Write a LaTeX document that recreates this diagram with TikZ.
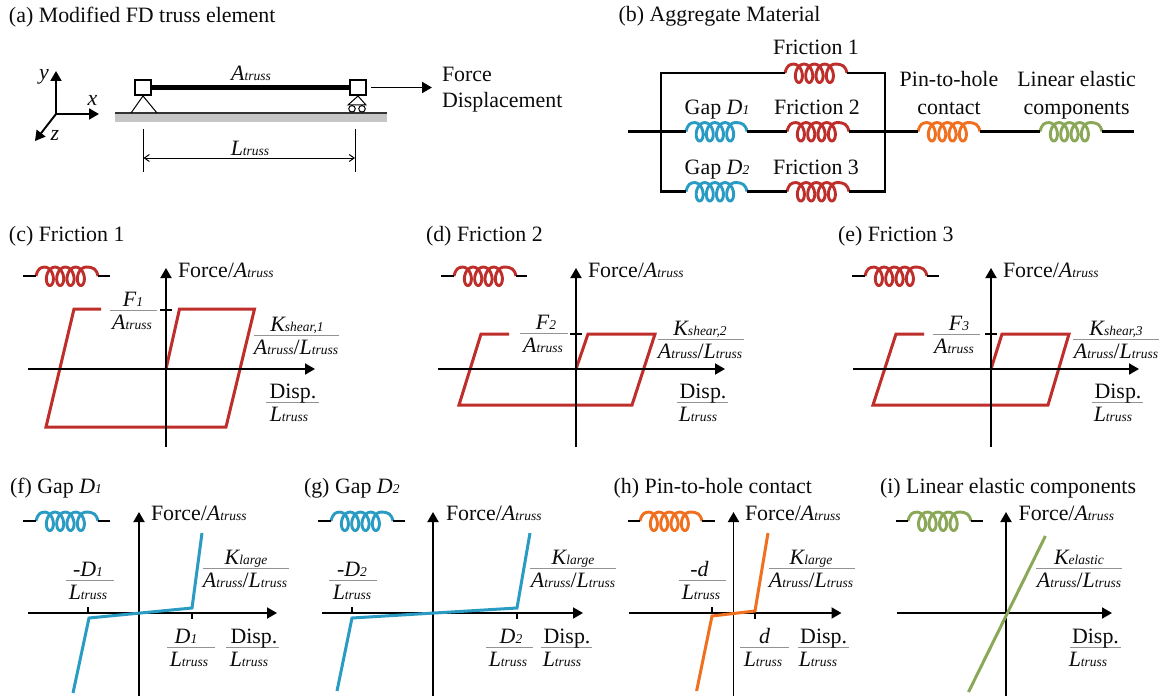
\documentclass[tikz,border=0pt]{standalone}
\usepackage{fontspec}
\setmainfont{Liberation Serif}
\usetikzlibrary{arrows.meta}
\definecolor{cred}{HTML}{BE2E2B}
\definecolor{cblue}{HTML}{2A9CC4}
\definecolor{corange}{HTML}{F07020}
\definecolor{cgreen}{HTML}{8AA858}
\definecolor{ink}{HTML}{0C0C0C}
\newcommand\smsz{13.5}
\newcommand\Sm[2]{\textit{#1{\fontsize{\smsz}{\smsz}\selectfont #2}}}
\newcommand\At{\Sm{A}{truss}}
\newcommand\Lt{\Sm{L}{truss}}
\tikzset{
  txt/.style={inner sep=0pt,outer sep=0pt,text=ink,font=\fontsize{21.9}{24}\selectfont},
  lab/.style={txt,anchor=base},
  title/.style={txt,anchor=base west},
  wire/.style={line width=2.1pt,draw=black},
  axisline/.style={line width=1.9pt,draw=black,-{Triangle[length=10pt,width=11pt]}},
  curve/.style={line width=3pt,line join=miter},
  coilline/.style={line width=2.9pt},
  fracline/.style={line width=.9pt,draw=gray!85},
  tick/.style={line width=1.7pt,draw=black},
  sq/.style={draw=black,line width=2pt,minimum width=16pt,minimum height=15pt,inner sep=0pt,fill=white},
  wheel/.style={draw=black,line width=1pt,circle,minimum size=6.5pt,inner sep=0pt},
}
% name, x1, x2, y, colour
\newcommand\coil[5]{%
  \coordinate (#1-l) at (#2,#4);
  \coordinate (#1-r) at (#3,#4);
  \begin{scope}[shift={(#2,#4)},xscale={(#3-#2)/57}]
  \draw[coilline,draw=#5] (0,0) .. controls (1.5,-7) and (4,-8.9) .. (8,-8.9)
    -- plot[domain=0:1440,samples=145] ({8+9.5*\x/360+5.4*sin(\x)},{0.3-9.2*cos(\x)})
    .. controls (53,-8.9) and (55.5,-7) .. (57,0);
  \end{scope}}
% name, wire-left, coil-left, coil-right, wire-right, y, colour
\newcommand\icon[7]{%
  \coil{#1}{#3}{#4}{#6}{#7}
  \coordinate (#1-a) at (#2,#6);
  \coordinate (#1-b) at (#5,#6);
  \draw[wire] (#1-a) -- (#1-l);
  \draw[wire] (#1-r) -- (#1-b);}
% name, x1, x2, liney, numx, num, denx, den
\newcommand\fr[8]{%
  \coordinate (#1-a) at (#2,#4);
  \coordinate (#1-b) at (#3,#4);
  \draw[fracline] (#1-a) -- (#1-b);
  \node[lab] (#1-n) at (#5,#4-4) {#6};
  \node[lab] (#1-d) at (#7,#4+19) {#8};}
% name, axis x, xleft, xright, axis y, top, bottom
\newcommand\axes[7]{%
  \coordinate (#1-o) at (#2,#5);
  \coordinate (#1-w) at (#3,#5);
  \coordinate (#1-e) at (#4,#5);
  \coordinate (#1-t) at (#2,#6);
  \coordinate (#1-s) at (#2,#7);
  \draw[axisline] (#1-w) -- (#1-e);
  \draw[axisline] (#1-s) -- (#1-t);}
\begin{document}
\begin{tikzpicture}[x=1pt,y=-1pt]
\useasboundingbox[fill=white] (0,0) rectangle (1161,698);

% ---------- (a)
\node[title] (ta) at (9,23) {(a) Modified FD truss element};
\coordinate (ao) at (56,114);
\coordinate (ay) at (56,71);
\coordinate (ax) at (99,114);
\coordinate (az) at (35,141);
\draw[axisline] (ao) -- (ay);
\draw[axisline] (ao) -- (ax);
\draw[axisline] (ao) -- (az);
\node[lab] (ly) at (44,80) {\textit{y}};
\node[lab] (lx) at (92.5,106) {\textit{x}};
\node[lab] (lz) at (55,140) {\textit{z}};
\fill[gray!45] (115,113) rectangle (387,122);
\coordinate (gl) at (115,113);
\coordinate (gr) at (387,113);
\draw[line width=1.3pt,draw=black!80] (gl) -- (gr);
\node[sq] (sl) at (143,87.5) {};
\node[sq] (sr) at (358,87.5) {};
\draw[line width=4.4pt] (sl.east) -- (sr.west);
\draw[line width=1pt] (131,113) -- (sl.south) -- (157,113);
\draw[line width=1pt] (348,105) -- (sr.south) -- (366,105) -- cycle;
\node[wheel] (w1) at (352,108.8) {};
\node[wheel] (w2) at (362,108.8) {};
\node[lab] (la) at (251,81) {\At};
\coordinate (d1a) at (143.5,129);
\coordinate (d1b) at (143.5,172);
\coordinate (d2a) at (355,129);
\coordinate (d2b) at (355,172);
\coordinate (m1) at (143.5,158);
\coordinate (m2) at (355,158);
\draw[line width=1pt] (d1a) -- (d1b);
\draw[line width=1pt] (d2a) -- (d2b);
\draw[line width=1pt,{Straight Barb[length=5pt,width=7pt]}-{Straight Barb[length=5pt,width=7pt]}] (m1) -- (m2);
\node[lab] (ll) at (250,155) {\Lt};
\coordinate (fa) at (371,87.5);
\coordinate (fb) at (432,87.5);
\draw[axisline] (fa) -- (fb);
\node[title] (tf) at (442,82) {Force};
\node[title] (td) at (442,108) {Displacement};

% ---------- (b)
\node[title] (tb) at (618.6,22) {(b) Aggregate Material};
\coil{f1}{785}{847}{73}{cred}
\coil{g1}{686}{747}{131.5}{cblue}
\coil{f2}{787}{849}{131.5}{cred}
\coil{g2}{686}{747}{191.5}{cblue}
\coil{f3}{787}{849}{191.5}{cred}
\coil{ph}{918}{980}{131.5}{corange}
\coil{le}{1040}{1102}{131.5}{cgreen}
\coordinate (wl) at (628,131.5);
\coordinate (wr) at (1134,131.5);
\coordinate (tl) at (661,73);
\coordinate (bl) at (661,191.5);
\coordinate (tr) at (885,73);
\coordinate (br) at (885,191.5);
\draw[wire] (wl) -- (g1-l);
\draw[wire] (g1-r) -- (f2-l);
\draw[wire] (f2-r) -- (ph-l);
\draw[wire] (ph-r) -- (le-l);
\draw[wire] (le-r) -- (wr);
\draw[wire] (f1-l) -- (tl) -- (bl) -- (g2-l);
\draw[wire] (g2-r) -- (f3-l);
\draw[wire] (f1-r) -- (tr) -- (br) -- (f3-r);
\node[lab] (nf1) at (816,55) {Friction 1};
\node[lab] (ng1) at (717,114) {Gap \Sm{D}{1}};
\node[lab] (nf2) at (817,114) {Friction 2};
\node[lab] (ng2) at (717,174) {Gap \Sm{D}{2}};
\node[lab] (nf3) at (816,174) {Friction 3};
\node[lab] (np1) at (949,87) {Pin-to-hole};
\node[lab] (np2) at (949,114) {contact};
\node[lab] (ne1) at (1076.6,87) {Linear elastic};
\node[lab] (ne2) at (1076.6,114) {components};

% ---------- (c)
\node[title] (tc) at (9,241) {(c) Friction 1};
\icon{ic}{23}{36}{98}{110}{276}{cred}
\coordinate (c1) at (166,369);
\coordinate (c2) at (179.5,309);
\coordinate (c3) at (254.5,309);
\coordinate (c4) at (226,427);
\coordinate (c5) at (46,427);
\coordinate (c6) at (74,309);
\coordinate (c7) at (101,309);
\draw[curve,cred] (c1) -- (c2) -- (c3) -- (c4) -- (c5) -- (c6) -- (c7);
\axes{ac}{166}{28}{315}{369}{268}{447}
\draw[tick] (160,310) -- (172,310);
\node[title] (fc) at (178,277) {Force/\At};
\fr{c-f}{110}{157}{310}{133}{\Sm{F}{1}}{132}{\At}
\fr{c-k}{254}{339}{335}{297}{\Sm{K}{shear,1}}{296}{\At/\Lt}
\fr{c-x}{266}{319}{402}{293}{Disp.}{289}{\Lt}

% ---------- (d)
\node[title] (td2) at (426,241) {(d) Friction 2};
\icon{id}{441}{454}{516}{527}{276}{cred}
\coordinate (d1) at (576,369);
\coordinate (d2) at (588,334);
\coordinate (d3) at (655,334);
\coordinate (d4) at (632,405);
\coordinate (d5) at (459,405);
\coordinate (d6) at (481,334);
\coordinate (d7) at (509,334);
\draw[curve,cred] (d1) -- (d2) -- (d3) -- (d4) -- (d5) -- (d6) -- (d7);
\axes{ad}{576}{438}{725}{369}{268}{447}
\draw[tick] (570,334) -- (582,334);
\node[title] (fd) at (588,277) {Force/\At};
\fr{d-f}{520}{568}{333}{546}{\Sm{F}{2}}{543}{\At}
\fr{d-k}{658}{744}{339}{700}{\Sm{K}{shear,2}}{700}{\At/\Lt}
\fr{d-x}{677}{728}{402}{703}{Disp.}{698}{\Lt}

% ---------- (e)
\node[title] (te) at (838,241) {(e) Friction 3};
\icon{ie}{852}{865}{927}{939}{276}{cred}
\coordinate (e1) at (991,369);
\coordinate (e2) at (1002,334);
\coordinate (e3) at (1069,334);
\coordinate (e4) at (1048,405);
\coordinate (e5) at (873,405);
\coordinate (e6) at (896,334);
\coordinate (e7) at (924,334);
\draw[curve,cred] (e1) -- (e2) -- (e3) -- (e4) -- (e5) -- (e6) -- (e7);
\axes{ae}{991}{853}{1139}{369}{268}{447}
\draw[tick] (985,334) -- (997,334);
\node[title] (fe) at (1003,277) {Force/\At};
\fr{e-f}{933}{980}{334}{959}{\Sm{F}{3}}{954}{\At}
\fr{e-k}{1073}{1159}{339}{1116}{\Sm{K}{shear,3}}{1116}{\At/\Lt}
\fr{e-x}{1092}{1143}{402}{1118}{Disp.}{1113}{\Lt}

% ---------- (f)
\node[title] (tf2) at (10,493) {(f) Gap \Sm{D}{1}};
\icon{if}{23}{36}{98}{110}{521}{cblue}
\axes{af}{139}{28}{277}{613}{512}{696}
\draw[tick] (88,607) -- (88,613);
\draw[tick] (192,613) -- (192,619);
\coordinate (f1p) at (73,693);
\coordinate (f2p) at (89,618);
\coordinate (f3p) at (192,608);
\coordinate (f4p) at (202,533);
\draw[curve,cblue] (f1p) -- (f2p) -- (f3p) -- (f4p);
\node[title] (ff) at (151,520) {Force/\At};
\fr{f-m}{66}{114}{580}{88}{\Sm{-D}{1}}{88}{\Lt}
\fr{f-k}{203}{289}{568}{246}{\Sm{K}{large}}{245}{\At/\Lt}
\fr{f-p}{167}{215}{647}{186}{\Sm{D}{1}}{189}{\Lt}
\fr{f-x}{226}{279}{647}{254}{Disp.}{249}{\Lt}

% ---------- (g)
\node[title] (tg) at (304,493) {(g) Gap \Sm{D}{2}};
\icon{ig}{318}{331}{393}{405}{521}{cblue}
\axes{ag}{433}{322}{583}{613}{512}{696}
\draw[tick] (352,607) -- (352,613);
\draw[tick] (517,613) -- (517,619);
\coordinate (g1p) at (337,691);
\coordinate (g2p) at (352,618);
\coordinate (g3p) at (517,608);
\coordinate (g4p) at (530,533);
\draw[curve,cblue] (g1p) -- (g2p) -- (g3p) -- (g4p);
\node[title] (fg) at (446,520) {Force/\At};
\fr{g-m}{329}{377}{580}{352}{\Sm{-D}{2}}{352}{\Lt}
\fr{g-k}{530}{616}{568}{573}{\Sm{K}{large}}{573}{\At/\Lt}
\fr{g-p}{486}{533}{647}{511}{\Sm{D}{2}}{508}{\Lt}
\fr{g-x}{541}{592}{647}{567}{Disp.}{562}{\Lt}

% ---------- (h)
\node[title] (th) at (613.6,493) {(h) Pin-to-hole contact};
\icon{ih}{628}{640}{702}{714.5}{521}{corange}
\axes{ah}{733.5}{628.6}{841.5}{613}{512}{696}
\draw[tick] (712,607) -- (712,613);
\draw[tick] (755,613) -- (755,619);
\coordinate (h1p) at (696.6,691);
\coordinate (h2p) at (712,616);
\coordinate (h3p) at (755,611);
\coordinate (h4p) at (768,533);
\draw[curve,corange] (h1p) -- (h2p) -- (h3p) -- (h4p);
\node[title] (fh) at (745,520) {Force/\At};
\fr{h-m}{678.7}{726.3}{580}{699.5}{\textit{-d}}{701}{\Lt}
\fr{h-k}{769}{855}{568}{811}{\Sm{K}{large}}{811}{\At/\Lt}
\fr{h-p}{740}{788.5}{647}{764.6}{\textit{d}}{763}{\Lt}
\fr{h-x}{798}{849.4}{647}{823.6}{Disp.}{818}{\Lt}

% ---------- (i)
\node[title] (ti) at (880,493) {(i) Linear elastic components};
\icon{ii}{896}{908}{971}{983}{521}{cgreen}
\axes{ai}{1006}{897}{1112}{613}{512}{696}
\coordinate (i1p) at (968.5,692);
\coordinate (i2p) at (1045.4,536);
\draw[curve,cgreen] (i1p) -- (i2p);
\node[title] (fi) at (1018.6,520) {Force/\At};
\fr{i-k}{1036}{1122}{568}{1079}{\Sm{K}{elastic}}{1079}{\At/\Lt}
\fr{i-x}{1070}{1121}{647}{1095.5}{Disp.}{1088}{\Lt}
\end{tikzpicture}
\end{document}
